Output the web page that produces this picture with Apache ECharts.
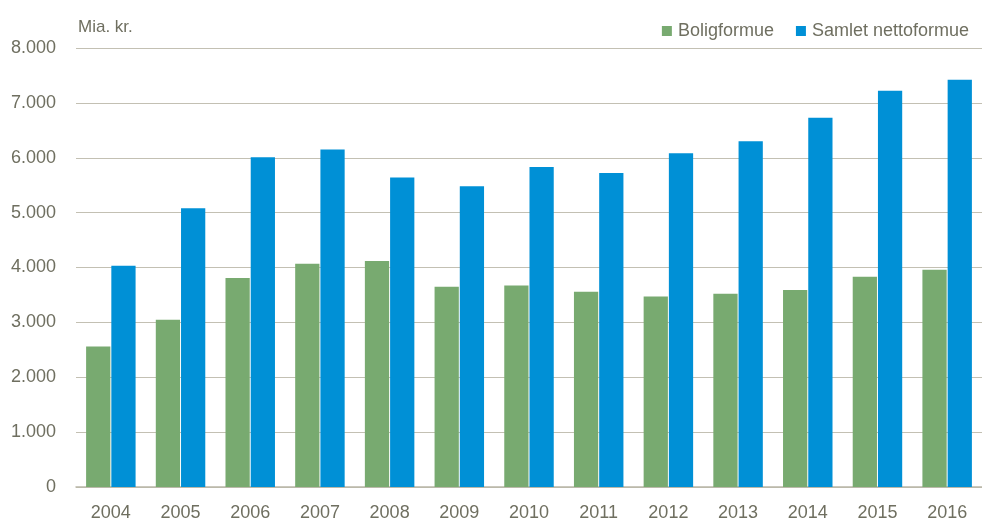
<!DOCTYPE html>
<html><head><meta charset="utf-8">
<script src="https://cdn.jsdelivr.net/npm/echarts@6/dist/echarts.min.js"></script>
<style>html,body{margin:0;padding:0;background:#fff}#c{width:982px;height:522px}</style>
</head><body><div id="c"></div>
<script>
const categories = ['2004','2005','2006','2007','2008','2009','2010','2011','2012','2013','2014','2015','2016'];
const boligformue = [2560, 3050, 3810, 4070, 4120, 3650, 3670, 3560, 3470, 3520, 3590, 3830, 3960];
const nettoformue = [4030, 5080, 6010, 6150, 5640, 5480, 5830, 5720, 6080, 6300, 6730, 7220, 7420];
const seriesNames = ['Boligformue', 'Samlet nettoformue'];
const unitLabel = 'Mia. kr.';

const FONT = '"Liberation Sans", Arial, sans-serif';
const TXT = '#6f6f60';
const FS = 18;
const chart = echarts.init(document.getElementById('c'));
chart.setOption({
  animation: false,
  textStyle: { fontFamily: FONT },
  legend: {
    data: seriesNames,
    top: 17, right: 8,
    itemWidth: 10, itemHeight: 10, itemGap: 22,
    icon: 'rect',
    textStyle: { fontFamily: FONT, fontSize: FS, color: TXT, padding: [0, 0, 0, 1] }
  },
  graphic: [{ type: 'text', left: 78, top: 19, style: { text: unitLabel, font: '17px ' + FONT, fill: TXT } }],
  grid: { left: 76, top: 48, width: 916, bottom: 33, containLabel: false },
  xAxis: {
    type: 'category', data: categories,
    axisTick: { show: false },
    axisLine: { lineStyle: { color: '#b9b6a8', width: 1.5 } },
    axisLabel: { fontFamily: FONT, fontSize: FS, color: TXT, margin: 17 }
  },
  yAxis: {
    type: 'value', min: 0, max: 8000, interval: 1000,
    axisLine: { show: false }, axisTick: { show: false },
    splitLine: { lineStyle: { color: '#c3c0b3', width: 1.2 } },
    axisLabel: {
      fontFamily: FONT, fontSize: FS, color: TXT, margin: 20,
      formatter: v => v === 0 ? '0' : (v / 1000).toFixed(0) + '.000'
    }
  },
  series: [
    { name: seriesNames[0], type: 'bar', data: boligformue, barGap: '4%', barCategoryGap: '29%',
      itemStyle: { color: '#78aa70' } },
    { name: seriesNames[1], type: 'bar', data: nettoformue,
      itemStyle: { color: '#0090d6' } }
  ]
});
</script></body></html>
